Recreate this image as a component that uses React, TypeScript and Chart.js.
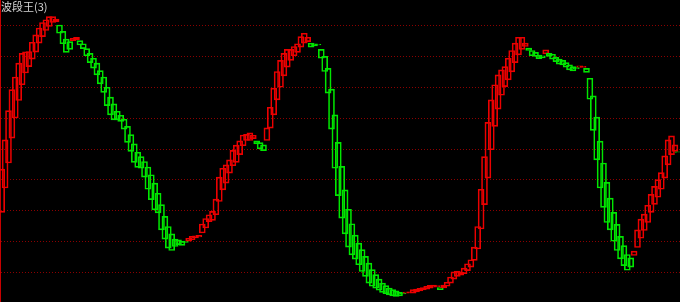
import React, { useEffect, useRef } from "react";
import { Chart, registerables } from "chart.js";

Chart.register(...registerables);

const TITLE = "波段王(3)";

const OPEN = [
  29.5, 37.4, 45.5, 53.6, 60.1, 65.8, 70.9, 74.7, 76.8, 79.2,
  81.5, 84.4, 86.5, 88.5, 89.8, 91.1, 91.3, 90.3, 88.2, 85.7,
  84.9, 85.2, 85.5, 85.2, 84.2, 82.6, 81.1, 79.5, 77.9, 75.5,
  73.4, 70.1, 66.9, 64.7, 62.3, 61.0, 59.7, 57.4, 54.7, 51.7,
  49.0, 47.6, 46.0, 44.2, 41.7, 39.0, 35.7, 32.0, 28.2, 24.9,
  22.5, 20.8, 20.6, 20.1, 20.2, 20.1, 20.6, 21.2, 21.5, 22.8,
  24.4, 26.5, 26.9, 28.7, 33.0, 36.8, 39.0, 42.2, 44.6, 45.7,
  48.2, 51.1, 52.8, 52.8, 53.4, 52.7, 52.1, 51.4, 52.8, 56.8,
  61.1, 66.0, 70.1, 73.8, 76.6, 78.8, 80.3, 81.4, 83.1, 84.4,
  84.9, 84.4, 84.2, 84.0, 82.4, 80.1, 76.2, 69.5, 61.1, 52.2,
  44.4, 36.8, 30.5, 25.8, 22.1, 19.5, 17.4, 15.2, 13.0, 10.9,
  9.3, 7.8, 6.5, 5.7, 4.9, 4.4, 4.0, 3.5, 3.3, 3.3,
  3.4, 3.3, 3.7, 4.0, 4.3, 4.6, 4.9, 5.2, 5.4, 5.1,
  5.0, 5.5, 6.5, 7.8, 8.7, 9.1, 9.6, 10.6, 11.7, 13.9,
  17.6, 24.1, 32.0, 40.6, 49.8, 57.4, 63.0, 67.5, 70.3, 72.5,
  75.1, 78.1, 80.6, 82.4, 83.3, 82.8, 82.0, 81.4, 80.5, 80.3,
  80.9, 81.1, 80.8, 79.8, 79.2, 78.8, 78.1, 77.4, 76.8, 76.5,
  76.6, 76.5, 76.2, 73.0, 67.3, 60.4, 52.6, 45.5, 39.2, 34.1,
  29.5, 25.6, 21.7, 18.7, 15.8, 14.7, 15.5, 18.1, 21.1, 23.6,
  26.2, 29.5, 32.1, 34.4, 37.0, 40.6, 44.9, 48.2, 49.3, 49.1,
];

const CLOSE = [
  43.5, 53.0, 62.5, 69.3, 73.4, 77.9, 81.1, 81.6, 81.7, 84.7,
  87.1, 89.3, 91.1, 92.0, 93.0, 93.0, 92.2, 87.6, 84.2, 81.4,
  82.4, 86.0, 86.3, 83.8, 82.6, 80.3, 78.1, 76.3, 74.1, 71.2,
  68.4, 64.1, 61.1, 59.5, 59.5, 59.0, 56.5, 52.2, 49.3, 45.7,
  44.1, 43.8, 40.9, 37.0, 33.6, 30.3, 29.3, 23.8, 20.8, 17.9,
  17.1, 18.4, 19.0, 18.8, 19.7, 21.1, 21.7, 21.9, 22.0, 25.7,
  27.5, 28.7, 29.8, 33.8, 40.9, 43.8, 44.9, 46.5, 49.6, 51.3,
  52.7, 54.6, 54.8, 55.3, 54.5, 51.7, 50.1, 49.5, 56.9, 63.6,
  69.8, 75.2, 78.8, 81.1, 82.4, 82.4, 83.3, 84.2, 86.5, 87.6,
  86.3, 83.1, 83.5, 83.8, 79.5, 75.2, 68.2, 56.5, 43.8, 34.9,
  27.6, 22.5, 18.2, 15.7, 14.3, 12.5, 10.3, 8.7, 6.5, 5.5,
  4.9, 4.2, 3.5, 3.1, 2.7, 2.4, 2.2, 2.4, 3.0, 3.6,
  3.7, 4.4, 4.6, 4.8, 5.1, 5.5, 5.8, 5.9, 5.7, 4.4,
  5.9, 6.8, 8.5, 10.2, 10.4, 10.0, 11.4, 12.8, 14.1, 18.2,
  24.9, 37.0, 47.6, 58.7, 66.0, 70.9, 74.1, 75.7, 76.8, 79.5,
  82.0, 84.4, 86.3, 86.3, 84.4, 82.0, 80.3, 80.1, 79.4, 79.6,
  82.2, 80.1, 79.2, 78.4, 77.6, 77.3, 76.6, 75.7, 75.4, 76.0,
  77.0, 76.9, 74.9, 66.2, 56.1, 46.5, 37.4, 31.1, 26.2, 23.8,
  20.1, 17.1, 14.4, 12.2, 10.7, 11.7, 16.9, 23.8, 27.3, 28.9,
  31.8, 35.3, 37.9, 40.1, 42.4, 47.8, 53.0, 54.3, 51.4, 48.9,
];

const GRID_VALUES = [10, 20, 30, 40, 50, 60, 70, 80, 90];
const Y_MIN = 0.4;
const Y_MAX = 98.4;

const UP_COLOR = "rgb(235,0,0)";
const DOWN_COLOR = "rgb(0,230,0)";
const GRID_COLOR = "rgb(140,0,0)";
const AXIS_COLOR = "rgb(200,0,0)";

export default function App() {
  const ref = useRef<HTMLCanvasElement>(null);

  useEffect(() => {
    document.body.style.margin = "0";
    document.body.style.background = "#000";
    const labels = OPEN.map((_, i) => String(i + 1));
    const colors = OPEN.map((o, i) => (CLOSE[i] >= o ? UP_COLOR : DOWN_COLOR));
    const chart = new Chart(ref.current as HTMLCanvasElement, {
      type: "bar",
      data: {
        labels,
        datasets: [
          {
            data: OPEN.map((o, i) => [o, CLOSE[i]]) as any,
            borderColor: colors,
            backgroundColor: "rgba(0,0,0,0)",
            borderWidth: 1,
            borderSkipped: false,
            barThickness: 6,
          },
        ],
      },
      options: {
        responsive: false,
        animation: false,
        layout: { padding: 0 },
        plugins: {
          legend: { display: false },
          tooltip: { enabled: false },
          title: { display: false },
        },
        scales: {
          x: { display: false, offset: true },
          y: {
            min: Y_MIN,
            max: Y_MAX,
            ticks: { display: false },
            grid: { color: GRID_COLOR, lineWidth: 1, drawTicks: false },
            border: { display: true, color: AXIS_COLOR, width: 1, dash: [1, 2] },
            afterBuildTicks: (scale: any) => {
              scale.ticks = GRID_VALUES.map((v) => ({ value: v }));
            },
          },
        },
      },
    });
    return () => chart.destroy();
  }, []);

  return (
    <div style={{ position: "relative", width: 680, height: 302, background: "#000" }}>
      <canvas ref={ref} width={680} height={302} style={{ display: "block" }} />
      <div
        style={{
          position: "absolute",
          left: 1,
          top: 0,
          color: "#d4d4d4",
          font: '11px "Noto Sans CJK SC", sans-serif',
          lineHeight: "13px",
          whiteSpace: "nowrap",
        }}
      >
        {TITLE}
      </div>
    </div>
  );
}
